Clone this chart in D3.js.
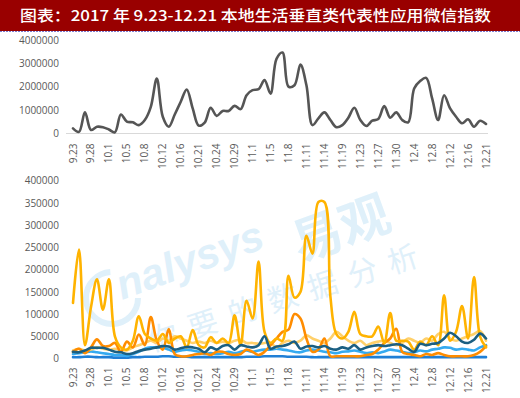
<!DOCTYPE html>
<html>
<head>
<meta charset="utf-8">
<script src="https://cdn.jsdelivr.net/npm/d3@7"></script>
<style>
  html, body { margin: 0; padding: 0; background: #fff; }
  svg { display: block; }
</style>
</head>
<body>
<svg id="chart" width="520" height="398"></svg>
<script>
const title = "图表：2017 年 9.23-12.21 本地生活垂直类代表性应用微信指数";

const dates = ["9.23","9.24","9.26","9.28","9.29","9.30","10.1","10.2","10.3","10.5",
  "10.6","10.7","10.8","10.9","10.10","10.12","10.13","10.14","10.16","10.17",
  "10.19","10.21","10.22","10.23","10.24","10.25","10.27","10.29","10.30","10.31",
  "11.1","11.2","11.3","11.5","11.6","11.7","11.8","11.9","11.10","11.11",
  "11.12","11.13","11.14","11.15","11.17","11.19","11.20","11.21","11.23","11.24",
  "11.25","11.27","11.28","11.29","11.30","12.1","12.2","12.4","12.5","12.6",
  "12.8","12.9","12.10","12.12","12.13","12.14","12.16","12.17","12.19","12.21"];

const tickLabels = ["9.23","9.28","10.1","10.5","10.8","10.12","10.16","10.21","10.24","10.29",
  "11.1","11.5","11.8","11.11","11.14","11.19","11.23","11.27","11.30","12.4","12.8","12.12","12.16","12.21"];

const topTicks = [0, 1000000, 2000000, 3000000, 4000000];
const bottomTicks = [0, 50000, 100000, 150000, 200000, 250000, 300000, 350000, 400000];

// top panel: total
const totalIndex = [200000,50000,890000,130000,270000,250000,150000,30000,800000,490000,
  460000,340000,560000,1130000,2350000,700000,270000,800000,1350000,1880000,
  1060000,320000,450000,1090000,740000,950000,950000,1170000,1030000,1630000,
  1850000,1890000,2280000,1700000,3200000,3470000,2000000,2060000,2950000,2060000,
  340000,630000,890000,560000,250000,340000,660000,1090000,560000,300000,
  530000,600000,1160000,660000,890000,560000,460000,1920000,2240000,2380000,
  1490000,560000,1630000,1060000,700000,420000,590000,270000,530000,390000];

// bottom panel: six apps
const seriesGold = [125000,245000,30000,115000,178000,110000,178000,50000,25000,20000,
  40000,95000,55000,45000,40000,55000,35000,45000,50000,25000,
  64000,30000,25000,48000,35000,45000,35000,97000,30000,130000,
  90000,218000,60000,35000,45000,40000,186000,137000,150000,276000,
  236000,352000,352000,140000,55000,45000,60000,105000,55000,50000,
  50000,72000,35000,102000,40000,40000,38000,20000,38000,30000,
  50000,30000,142000,40000,60000,118000,45000,183000,50000,25000];

const seriesOrange = [15000,22000,12000,25000,43000,28000,28000,35000,15000,38000,
  25000,54000,30000,93000,40000,20000,66000,10000,5000,5000,
  8000,10000,12000,8000,15000,15000,10000,8000,10000,20000,
  15000,8000,15000,30000,45000,60000,65000,100000,90000,45000,
  15000,20000,45000,5000,5000,5000,5000,5000,5000,8000,
  10000,20000,35000,45000,67000,15000,10000,8000,5000,10000,
  8000,12000,8000,5000,5000,5000,5000,8000,15000,28000];

const seriesPale = [18000,22000,18000,20000,25000,22000,20000,22000,20000,18000,
  25000,30000,35000,40000,35000,45000,40000,50000,45000,40000,
  35000,38000,35000,40000,35000,38000,35000,40000,42000,35000,
  35000,33000,35000,35000,25000,35000,40000,35000,40000,52000,
  45000,40000,35000,45000,60000,50000,40000,35000,40000,30000,
  35000,38000,40000,35000,30000,35000,45000,40000,35000,45000,
  40000,55000,60000,45000,40000,45000,50000,55000,62000,40000];

const seriesTeal = [15000,14000,18000,24000,24000,24000,20000,15000,14000,10000,
  12000,17000,20000,22000,25000,28000,27000,20000,23000,26000,
  25000,22000,14000,25000,20000,28000,30000,20000,30000,27000,
  25000,30000,50000,22000,27000,28000,32000,38000,22000,27000,
  28000,25000,28000,22000,20000,25000,22000,30000,20000,25000,
  28000,30000,28000,30000,32000,30000,22000,15000,33000,30000,
  33000,35000,45000,58000,50000,38000,35000,42000,56000,45000];

const seriesSky = [10000,12000,14000,16000,14000,12000,10000,8000,8000,6000,
  10000,15000,22000,25000,25000,24000,20000,15000,18000,20000,
  18000,15000,10000,12000,10000,12000,15000,12000,15000,18000,
  15000,18000,20000,20000,22000,20000,18000,15000,14000,18000,
  20000,18000,15000,14000,12000,15000,16000,18000,15000,12000,
  14000,12000,16000,20000,18000,15000,12000,14000,18000,16000,
  20000,22000,25000,24000,20000,22000,20000,18000,25000,30000];

const seriesBlue = [3000,3000,4000,4000,3000,3000,3000,2000,2000,2000,
  3000,3000,4000,4000,4000,5000,5000,4000,4000,4000,
  3000,3000,3000,3000,3000,3000,3000,3000,3000,4000,
  4000,4000,5000,5000,5000,5000,4000,4000,4000,4000,
  3000,3000,3000,3000,3000,3000,3000,3000,3000,3000,
  3000,3000,3000,3000,3000,3000,3000,3000,3000,3000,
  3000,3000,3000,3000,3000,3000,3000,3000,3000,3000];

const bottomSeries = [
  { values: seriesBlue,   color: "#1f7fd6" },
  { values: seriesSky,    color: "#35aaf0" },
  { values: seriesPale,   color: "#ffd06a" },
  { values: seriesOrange, color: "#ff8c00" },
  { values: seriesGold,   color: "#ffb300" },
  { values: seriesTeal,   color: "#1b5f82" }
];

const svg = d3.select("#chart");
const fontFamily = "'Open Sans', 'Noto Sans', sans-serif";
const labelColor = "#595959";

// Title bar
svg.append("rect").attr("x", 0).attr("y", 0).attr("width", 520).attr("height", 31).attr("fill", "#990000");
svg.append("line").attr("x1", 0).attr("x2", 520).attr("y1", 31.5).attr("y2", 31.5)
  .attr("stroke", "#7a7ad0").attr("stroke-width", 1).attr("stroke-dasharray", "2,1");
svg.append("text").attr("x", 20).attr("y", 20.5)
  .attr("fill", "#ffffff")
  .attr("font-family", "'Noto Sans CJK SC', sans-serif")
  .attr("font-size", 15).attr("font-weight", 500)
  .attr("textLength", 471).attr("lengthAdjust", "spacingAndGlyphs")
  .text(title);

const x = d3.scalePoint().domain(dates).range([73, 486]);

// Watermark (behind data)
const wmColor = "#dff0fa";
const wm = svg.append("g").attr("fill", wmColor);
wm.append("circle").attr("cx", 112).attr("cy", 298).attr("r", 26)
  .attr("fill", "none").attr("stroke", wmColor).attr("stroke-width", 6)
  .attr("stroke-dasharray", "120,50");
wm.append("text").attr("transform", "translate(122,300) rotate(-20)")
  .attr("font-family", "'Liberation Sans', sans-serif").attr("font-size", 42)
  .attr("font-weight", "bold").attr("font-style", "italic").text("nalysys");
wm.append("text").attr("transform", "translate(300,262) rotate(-20)")
  .attr("font-family", "'Noto Sans CJK SC', sans-serif").attr("font-size", 50)
  .attr("font-weight", "bold").text("易观");
wm.append("text").attr("transform", "translate(152,352) rotate(-18)")
  .attr("font-family", "'Noto Sans CJK SC', sans-serif").attr("font-size", 30)
  .attr("letter-spacing", 12).text("你要的数据分析");

function xAxis(g, yTop) {
  const ax = g.append("g").attr("transform", `translate(0,${yTop})`)
    .call(d3.axisBottom(x).tickValues(tickLabels).tickSize(0).tickFormat(d => d));
  ax.select(".domain").remove();
  ax.selectAll("text")
    .attr("transform", "rotate(-90)")
    .attr("x", 0).attr("y", 0).attr("dy", "0.35em")
    .attr("text-anchor", "end")
    .attr("fill", labelColor).attr("font-size", 10).attr("font-family", fontFamily);
  ax.selectAll(".tick").attr("transform", d => `translate(${x(d)},0)`);
}

// ---------- Top panel ----------
const yTop = d3.scaleLinear().domain([0, 4000000]).range([133, 40.3]);
const gTop = svg.append("g");
gTop.append("line").attr("x1", 66).attr("x2", 488).attr("y1", 133.5).attr("y2", 133.5)
  .attr("stroke", "#d9d9d9").attr("stroke-width", 1);
const yaTop = gTop.append("g").attr("transform", "translate(62,0)")
  .call(d3.axisLeft(yTop).tickValues(topTicks).tickSize(0).tickPadding(3).tickFormat(d3.format("d")));
yaTop.select(".domain").remove();
yaTop.selectAll("text").attr("fill", labelColor).attr("font-size", 10).attr("font-family", fontFamily);
xAxis(gTop, 143.5);

const lineTop = d3.line().x((d, i) => x(dates[i])).y(d => yTop(d)).curve(d3.curveCatmullRom.alpha(0.5));
gTop.append("path").datum(totalIndex).attr("d", lineTop)
  .attr("fill", "none").attr("stroke", "#555555").attr("stroke-width", 2.6)
  .attr("stroke-linejoin", "round").attr("stroke-linecap", "round");

// ---------- Bottom panel ----------
const yBot = d3.scaleLinear().domain([0, 400000]).range([358.5, 180.7]);
const gBot = svg.append("g");
const yaBot = gBot.append("g").attr("transform", "translate(62,0)")
  .call(d3.axisLeft(yBot).tickValues(bottomTicks).tickSize(0).tickPadding(3).tickFormat(d3.format("d")));
yaBot.select(".domain").remove();
yaBot.selectAll("text").attr("fill", labelColor).attr("font-size", 10).attr("font-family", fontFamily);
xAxis(gBot, 367.5);

const lineBot = d3.line().x((d, i) => x(dates[i])).y(d => yBot(d)).curve(d3.curveCatmullRom.alpha(0.5));
bottomSeries.forEach(s => {
  gBot.append("path").datum(s.values).attr("d", lineBot)
    .attr("fill", "none").attr("stroke", s.color).attr("stroke-width", 2.6)
    .attr("stroke-linejoin", "round").attr("stroke-linecap", "round");
});
</script>
</body>
</html>
